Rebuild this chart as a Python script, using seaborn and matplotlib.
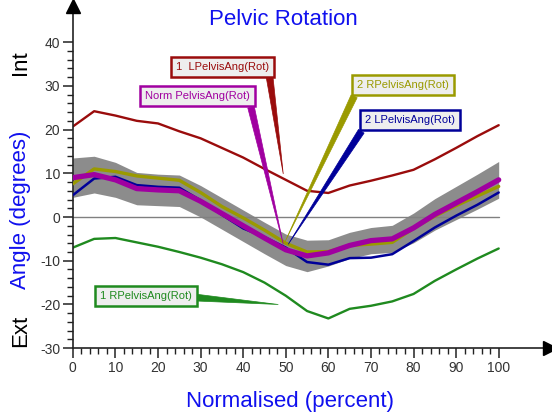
import numpy as np
import pandas as pd
import matplotlib
matplotlib.use("Agg")
import matplotlib.pyplot as plt
import seaborn as sns

# ---- data ----
pct = [0, 5, 10, 15, 20, 25, 30, 35, 40, 45, 50, 55, 60, 65, 70, 75, 80, 85, 90, 95, 100]
l1_pelvis = [20.7, 24.2, 23.2, 22.0, 21.4, 19.6, 18.0, 15.8, 13.6, 11.0, 8.5, 6.0, 5.5, 7.2, 8.3, 9.5, 10.8, 13.2, 15.8, 18.5, 21.0]
r1_pelvis = [-7.0, -5.0, -4.8, -5.8, -6.8, -8.0, -9.3, -10.8, -12.6, -15.0, -18.0, -21.5, -23.2, -21.0, -20.3, -19.3, -17.6, -14.6, -12.0, -9.5, -7.2]
norm_mean = [9.0, 9.7, 8.5, 6.5, 6.2, 6.0, 3.6, 0.8, -2.0, -4.8, -7.5, -8.9, -8.2, -6.5, -5.4, -5.0, -2.5, 0.6, 3.2, 5.8, 8.5]
norm_sd = [4.5, 4.2, 4.0, 3.7, 3.6, 3.6, 3.6, 3.6, 3.6, 3.6, 3.6, 3.6, 3.0, 3.0, 3.0, 3.1, 3.4, 3.6, 3.8, 4.0, 4.2]
r2_pelvis = [7.6, 11.0, 10.4, 9.4, 8.9, 8.4, 5.6, 2.4, -0.2, -3.0, -6.0, -8.0, -7.9, -6.5, -6.2, -5.8, -2.6, 0.2, 2.6, 4.8, 7.0]
l2_pelvis = [5.0, 8.8, 9.2, 7.3, 6.9, 6.7, 3.8, 0.5, -2.6, -4.6, -7.0, -10.3, -10.9, -9.4, -9.3, -8.5, -5.5, -2.4, 0.3, 2.8, 5.6]

labels = ["1  LPelvisAng(Rot)", "Norm PelvisAng(Rot)", "2 RPelvisAng(Rot)",
          "2 LPelvisAng(Rot)", "1 RPelvisAng(Rot)"]
x_ticks = [0, 10, 20, 30, 40, 50, 60, 70, 80, 90, 100]
y_ticks = [-30, -20, -10, 0, 10, 20, 30, 40]

sns.set_style("white")
plt.rcParams['font.family'] = ['Liberation Sans', 'DejaVu Sans']

RED = "#9a0c0c"
GREEN = "#1f8a1f"
PURPLE = "#a000a0"
OLIVE = "#9a9a00"
BLUE = "#000099"
GRAY = "#8c8c8c"
TXTBLUE = "#1010ee"

fig = plt.figure(figsize=(5.52, 4.16), dpi=100)
ax = fig.add_axes([0.132, 0.163, 0.864, 0.823])

df = pd.DataFrame({"pct": pct, "l1": l1_pelvis, "r1": r1_pelvis, "norm": norm_mean,
                   "sd": norm_sd, "r2": r2_pelvis, "l2": l2_pelvis})

lo = df["norm"] - df["sd"]
hi = df["norm"] + df["sd"]
ax.fill_between(df["pct"], lo, hi, color=GRAY, lw=0, zorder=1)
ax.plot([0, 100], [0, 0], color="#808080", lw=1.0, zorder=1.5)

sns.lineplot(data=df, x="pct", y="l1", color=RED, lw=1.7, ax=ax, zorder=2)
sns.lineplot(data=df, x="pct", y="r1", color=GREEN, lw=1.7, ax=ax, zorder=2)
sns.lineplot(data=df, x="pct", y="l2", color=BLUE, lw=1.8, ax=ax, zorder=3)
sns.lineplot(data=df, x="pct", y="r2", color=OLIVE, lw=2.4, ax=ax, zorder=3.5)
sns.lineplot(data=df, x="pct", y="norm", color=PURPLE, lw=3.8, ax=ax, zorder=4)

ax.set_xlim(0, 112)
ax.set_ylim(-30, 48.3)

# spines
for s in ["top", "right"]:
    ax.spines[s].set_visible(False)
for s in ["left", "bottom"]:
    ax.spines[s].set_color("#222222")
    ax.spines[s].set_linewidth(1.2)
ax.plot(1, 0, marker=">", color="black", ms=10, transform=ax.transAxes, clip_on=False, zorder=10)
ax.plot(0, 1, marker="^", color="black", ms=10, transform=ax.transAxes, clip_on=False, zorder=10)

ax.set_xticks(x_ticks)
ax.set_xticklabels([str(v) for v in x_ticks])
ax.set_xticks(np.arange(0, 101, 2), minor=True)
ax.set_yticks(y_ticks)
ax.set_yticklabels([str(v) for v in y_ticks])
ax.set_yticks(np.arange(-30, 41, 2), minor=True)
ax.tick_params(axis="both", which="major", direction="out", length=7, width=1.1,
               color="#222222", labelsize=10, labelcolor="#333333", pad=2,
               left=True, bottom=True)
ax.tick_params(axis="both", which="minor", direction="out", length=4, width=1.0,
               color="#222222", left=True, bottom=True)

ax.set_xlabel("")
ax.set_ylabel("")

fig.text(0.513, 0.952, "Pelvic Rotation", color=TXTBLUE, fontsize=16, ha="center", va="center")
fig.text(0.525, 0.035, "Normalised (percent)", color=TXTBLUE, fontsize=16, ha="center", va="center")
fig.text(0.038, 0.495, "Angle (degrees)", color=TXTBLUE, fontsize=16, rotation=90, ha="center", va="center")
fig.text(0.038, 0.85, "Int", color="black", fontsize=16, rotation=90, ha="center", va="center")
fig.text(0.038, 0.205, "Ext", color="black", fontsize=16, rotation=90, ha="center", va="center")

# callouts
callouts = [
    (labels[0], (49.4, 9.9), (35.1, 34.3), RED, (1.0, 0.0)),
    (labels[1], (49.4, -6.2), (29.2, 27.6), PURPLE, (1.0, 0.0)),
    (labels[2], (49.9, -5.5), (77.5, 30.1), OLIVE, (0.0, 0.0)),
    (labels[3], (50.6, -6.2), (79.2, 22.1), BLUE, (0.0, 0.0)),
    (labels[4], (48.2, -20.0), (17.1, -18.0), GREEN, (1.0, 0.35)),
]
for txt, xy, xytext, col, rp in callouts:
    ax.annotate(txt, xy=xy, xytext=xytext, textcoords="data", color=col,
                fontsize=8, ha="center", va="center", zorder=8,
                bbox=dict(boxstyle="square,pad=0.45", fc="#eeeeee", ec=col, lw=1.8),
                arrowprops=dict(arrowstyle="wedge,tail_width=0.6,shrink_factor=0.5",
                                fc=col, ec=col, lw=0.5, relpos=rp,
                                shrinkA=0, shrinkB=0))

fig.savefig("out.png", dpi=100, facecolor="white")
